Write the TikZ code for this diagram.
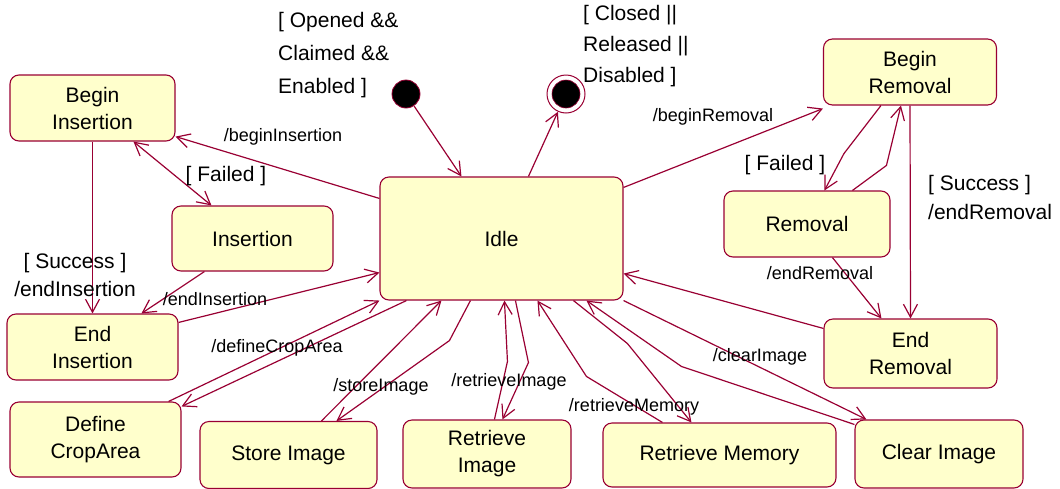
\documentclass[tikz,border=0pt]{standalone}
\usepackage{fontspec}
\setmainfont{Liberation Sans}
\usetikzlibrary{arrows.meta}
\definecolor{stred}{HTML}{990033}
\definecolor{stfill}{HTML}{FFFFCC}

\begin{document}
\begin{tikzpicture}[x=1pt,y=-1pt,
  state/.style={draw=stred,fill=stfill,rounded corners=9pt,line width=1.1pt,
    align=center,inner sep=0pt,font=\fontsize{21}{27}\selectfont},
  tr/.style={draw=stred,line width=1.2pt,-{Straight Barb[length=13pt,width=14pt]}},
  trboth/.style={draw=stred,line width=1.2pt,
    {Straight Barb[length=13pt,width=14pt]}-{Straight Barb[length=13pt,width=14pt]}},
  big/.style={inner sep=0pt,font=\fontsize{21}{25}\selectfont},
  small/.style={inner sep=0pt,font=\fontsize{18}{21}\selectfont}]
  \useasboundingbox (0,0) rectangle (1060,488);
  % states
  \node[state,minimum width=165pt,minimum height=66pt] (bins) at (92.5,108) {Begin\\Insertion};
  \node[state,minimum width=161pt,minimum height=65pt] (ins) at (252.5,238.5) {Insertion};
  \node[state,minimum width=171pt,minimum height=66pt] (eins) at (92.5,347) {End\\Insertion};
  \node[state,minimum width=171pt,minimum height=75pt] (dca) at (95.5,439.5) {Define\\CropArea};
  \node[state,minimum width=177pt,minimum height=67pt] (sto) at (288.5,455) {Store Image};
  \node[state,minimum width=243pt,minimum height=123pt] (idle) at (501.5,238.5) {Idle};
  \node[state,minimum width=168pt,minimum height=68pt] (rimg) at (487,454) {Retrieve\\Image};
  \node[state,minimum width=233pt,minimum height=64pt] (rmem) at (719.5,455) {Retrieve Memory};
  \node[state,minimum width=168pt,minimum height=68pt] (clr) at (939,454) {Clear Image};
  \node[state,minimum width=173pt,minimum height=69pt] (erem) at (910.5,353.5) {End\\Removal};
  \node[state,minimum width=166pt,minimum height=66pt] (rem) at (807,224) {Removal};
  \node[state,minimum width=173pt,minimum height=66pt] (brem) at (910,72) {Begin\\Removal};
  % initial and final
  \node[circle,draw=stred,fill=black,line width=0.8pt,minimum size=28pt,inner sep=0pt] (init) at (406,94) {};
  \node[circle,draw=stred,fill=white,line width=1pt,minimum size=38pt,inner sep=0pt] (fin) at (566,94) {};
  \node[circle,draw=stred,fill=black,line width=0.6pt,minimum size=28pt,inner sep=0pt] (fincore) at (fin) {};
  % transitions
  \draw[tr] (init) -- ([xshift=82pt]idle.north west);
  \draw[tr] ([xshift=149pt]idle.north west) -- (fin);
  \draw[tr] ([yshift=-22pt]idle.north west) -- ([yshift=5pt]bins.south east);
  \draw[trboth] ([xshift=124pt]bins.south west) -- ([xshift=40pt]ins.north west);
  \draw[tr] (bins.south) -- (eins.north);
  \draw[tr] ([xshift=33pt]ins.south west) -- ([xshift=135pt]eins.north west);
  \draw[tr] ([yshift=-9pt]eins.north east) -- ([yshift=28pt]idle.south west);
  \draw[tr] ([xshift=-13pt]dca.north east) -- (idle.south west);
  \draw[tr] ([xshift=27pt]idle.south west) -- ([yshift=-5pt]dca.north east);
  \draw[tr] ([xshift=122pt]sto.north west) -- ([xshift=62pt]idle.south west);
  \draw[tr] ([xshift=91pt]idle.south west) -- ++(-21,40) -- ([xshift=137pt]sto.north west);
  \draw[tr] ([xshift=92pt]rimg.north west) -- ++(13,-58) -- ([xshift=125pt]idle.south west);
  \draw[tr] ([xshift=136pt]idle.south west) -- ++(13,62) -- ([xshift=100pt]rimg.north west);
  \draw[tr] ([xshift=60pt]rmem.north west) -- ++(-76,-46) -- ([xshift=158pt]idle.south west);
  \draw[tr] ([xshift=194pt]idle.south west) -- ++(54,43) -- ([xshift=89pt]rmem.north west);
  \draw[tr] ([yshift=-5pt]clr.north west) -- ++(-173,-58) -- ([xshift=207pt]idle.south west);
  \draw[tr] (idle.south east) -- ([xshift=12pt]clr.north west);
  \draw[tr] ([yshift=-10pt]erem.north west) -- ([yshift=27pt]idle.south east);
  \draw[tr] ([xshift=109pt]rem.south west) -- ([xshift=58pt]erem.north west);
  \draw[tr] (brem.south) -- (erem.north);
  \draw[tr] ([yshift=-11pt]idle.north east) -- ([yshift=-3pt]brem.south west);
  \draw[tr] ([xshift=58pt]brem.south west) -- ++(-37,48) -- ([xshift=101pt]rem.north west);
  \draw[tr] ([xshift=129pt]rem.north west) -- ++(34,-25) -- ([xshift=78pt]brem.south west);
  % guards and actions
  \node[big,align=left,anchor=west,font=\fontsize{21}{33}\selectfont] (gopen) at (278,55) {[ Opened \&\&\\Claimed \&\&\\Enabled ]};
  \node[big,align=left,anchor=west,font=\fontsize{21}{31}\selectfont] (gclose) at (583,46) {[ Closed ||\\Released ||\\Disabled ]};
  \node[small] (abins) at (283,137) {/beginInsertion};
  \node[big] (gfailin) at (226,176) {[ Failed ]};
  \node[big,align=center,font=\fontsize{21}{28}\selectfont] (gsuccin) at (75,275) {[ Success ]\\/endInsertion};
  \node[small] (aeins) at (215,299) {/endInsertion};
  \node[small] (adca) at (277,348) {/defineCropArea};
  \node[small] (asto) at (381,387) {/storeImage};
  \node[small] (arimg) at (509,382) {/retrieveImage};
  \node[small] (armem) at (634,407) {/retrieveMemory};
  \node[small] (aclr) at (760,357) {/clearImage};
  \node[small] (aerem) at (820,273) {/endRemoval};
  \node[big] (gfailrem) at (785,165) {[ Failed ]};
  \node[big,align=left,anchor=west,font=\fontsize{21}{29}\selectfont] (gsuccrem) at (928,197) {[ Success ]\\ /endRemoval};
  \node[small] (abrem) at (713,117) {/beginRemoval};
\end{tikzpicture}
\end{document}
